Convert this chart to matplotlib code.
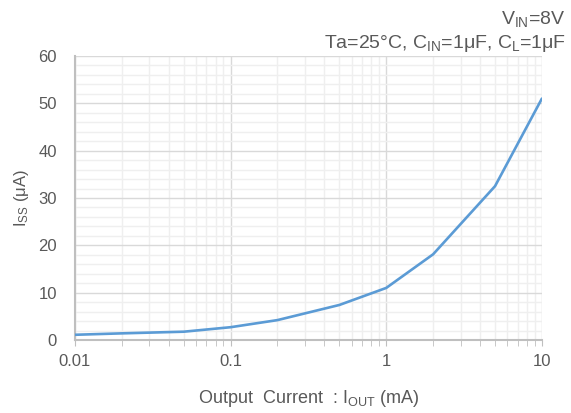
import matplotlib
matplotlib.use("Agg")
import matplotlib.pyplot as plt
from matplotlib.ticker import LogLocator, MultipleLocator, FixedLocator, FixedFormatter

plt.rcParams['font.family'] = ['Liberation Sans', 'DejaVu Sans']
plt.rcParams['mathtext.fontset'] = 'custom'
plt.rcParams['mathtext.rm'] = 'Liberation Sans'
plt.rcParams['mathtext.it'] = 'Liberation Sans'
plt.rcParams['mathtext.default'] = 'regular'

# data
iout_ma = [0.01, 0.02, 0.05, 0.1, 0.2, 0.5, 1, 2, 5, 10]
iss_ua = [1.1, 1.4, 1.75, 2.7, 4.2, 7.4, 11.0, 18.1, 32.5, 51.0]

x_ticks = [0.01, 0.1, 1, 10]
x_tick_labels = ["0.01", "0.1", "1", "10"]
y_ticks = [0, 10, 20, 30, 40, 50, 60]

TXT = "#595959"
BLUE = "#5B9BD5"

fig = plt.figure(figsize=(5.71, 4.13), dpi=100)
ax = fig.add_axes([0.1313, 0.1768, 0.949 - 0.1313, 0.8644 - 0.1768])

ax.plot(iout_ma, iss_ua, color=BLUE, lw=1.9, solid_capstyle="round", zorder=3)

ax.set_xscale("log")
ax.set_xlim(0.01, 10)
ax.set_ylim(0, 60)

ax.xaxis.set_major_locator(FixedLocator(x_ticks))
ax.xaxis.set_major_formatter(FixedFormatter(x_tick_labels))
ax.xaxis.set_minor_locator(LogLocator(base=10, subs=range(2, 10)))
ax.yaxis.set_major_locator(FixedLocator(y_ticks))
ax.yaxis.set_minor_locator(MultipleLocator(2))

ax.grid(which="major", color="#D9D9D9", lw=1.0)
ax.grid(which="minor", color="#EFEFEF", lw=1.0)
ax.set_axisbelow(True)

for s in ["top", "right"]:
    ax.spines[s].set_visible(False)
for s in ["left", "bottom"]:
    ax.spines[s].set_color("#BFBFBF")
    ax.spines[s].set_linewidth(1.5)

ax.tick_params(axis="x", which="both", length=4, color="#BFBFBF", labelsize=12,
               labelcolor=TXT, pad=6)
ax.tick_params(axis="y", which="both", length=0, labelsize=12, labelcolor=TXT, pad=13)

ax.set_xlabel("Output  Current  : I$_{OUT}$ (mA)", fontsize=13, color=TXT, labelpad=14)
ax.set_ylabel("I$_{SS}$ (μA)", fontsize=12, color=TXT, labelpad=5)

fig.text(0.991, 0.955, "V$_{IN}$=8V", ha="right", va="center", fontsize=14, color=TXT)
fig.text(0.991, 0.895, "Ta=25°C, C$_{IN}$=1μF, C$_{L}$=1μF", ha="right", va="center",
         fontsize=14, color=TXT)

fig.savefig("out.png", dpi=100)
